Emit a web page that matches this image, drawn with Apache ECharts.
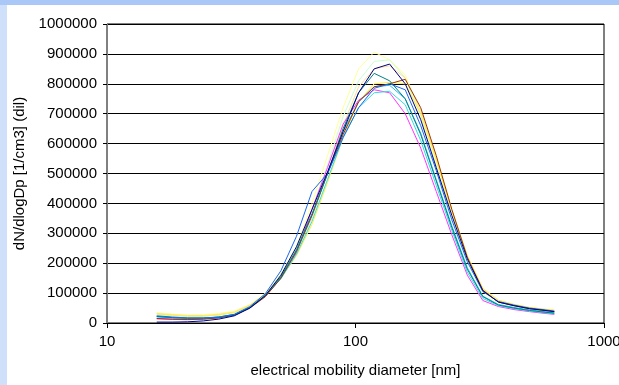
<!DOCTYPE html>
<html>
<head>
<meta charset="utf-8">
<script src="https://cdn.jsdelivr.net/npm/echarts@6/dist/echarts.min.js"></script>
<style>
  html, body { margin: 0; padding: 0; }
  body {
    width: 619px; height: 385px; overflow: hidden;
    background: linear-gradient(to bottom, #a9c7f7 0, #a9c7f7 5px, #cfe0fb 5px);
  }
  #chart { position: absolute; left: 7px; top: 5px; width: 612px; height: 380px; background: #fff; }
</style>
</head>
<body>
<div id="chart"></div>
<script>
// particle diameters (nm), shared by all scans
const diameters = [15.85, 18.30, 21.13, 24.41, 28.18, 32.54, 37.58, 43.39, 50.12, 57.87, 66.83, 77.18, 89.13,
  102.9, 118.9, 137.2, 158.5, 183.0, 211.3, 244.1, 281.8, 325.4, 375.8, 433.9, 501.2, 578.7, 631.0];

const scanNavy = [3000, 3000, 4000, 7000, 13000, 24000, 50000, 92000, 160000, 255000, 380000, 505000, 640000,
  770000, 850000, 866000, 800000, 680000, 520000, 360000, 215000, 108000, 70000, 58000, 48000, 42000, 38000];
const scanBlue = [24000, 20000, 17000, 17000, 20000, 29000, 55000, 98000, 175000, 290000, 440000, 500000, 620000,
  720000, 785000, 800000, 780000, 660000, 510000, 345000, 205000, 105000, 72000, 60000, 50000, 44000, 40000];
const scanMagenta = [14000, 12000, 11000, 13000, 18000, 28000, 52000, 90000, 150000, 235000, 380000, 520000, 665000,
  745000, 780000, 770000, 700000, 585000, 440000, 295000, 160000, 75000, 55000, 45000, 38000, 32000, 29000];
const scanCyan = [20000, 17000, 15000, 16000, 20000, 29000, 53000, 92000, 148000, 230000, 340000, 480000, 620000,
  720000, 770000, 775000, 730000, 610000, 460000, 310000, 170000, 82000, 58000, 48000, 40000, 34000, 31000];
const scanMaroon = [15000, 13000, 12000, 13000, 17000, 26000, 50000, 88000, 150000, 240000, 360000, 500000, 630000,
  740000, 790000, 800000, 815000, 720000, 560000, 380000, 220000, 110000, 70000, 58000, 48000, 42000, 38000];
const scanTeal = [22000, 18000, 16000, 16000, 19000, 27000, 52000, 92000, 155000, 245000, 365000, 500000, 650000,
  770000, 835000, 810000, 750000, 630000, 475000, 320000, 180000, 88000, 60000, 50000, 42000, 36000, 33000];
const scanPaleYellow = [35000, 30000, 27000, 28000, 32000, 40000, 62000, 100000, 165000, 255000, 400000, 560000, 720000,
  850000, 906000, 880000, 830000, 700000, 540000, 370000, 215000, 110000, 75000, 62000, 52000, 46000, 42000];
const scanPaleGreen = [28000, 24000, 21000, 22000, 26000, 34000, 58000, 96000, 160000, 250000, 380000, 530000, 690000,
  810000, 875000, 880000, 820000, 690000, 525000, 360000, 210000, 105000, 72000, 60000, 50000, 44000, 40000];
const scanYellow = [30000, 26000, 23000, 23000, 27000, 35000, 58000, 95000, 150000, 225000, 330000, 470000, 620000,
  740000, 800000, 805000, 800000, 700000, 545000, 375000, 225000, 115000, 76000, 62000, 52000, 46000, 43000];
const scanSky = [22000, 18000, 16000, 16000, 20000, 28000, 52000, 90000, 152000, 240000, 360000, 500000, 640000,
  740000, 790000, 795000, 750000, 635000, 480000, 325000, 185000, 90000, 62000, 52000, 44000, 38000, 34000];
const scanTan = [32000, 28000, 25000, 25000, 29000, 37000, 60000, 97000, 155000, 235000, 350000, 500000, 660000,
  790000, 850000, 860000, 820000, 710000, 550000, 380000, 225000, 115000, 76000, 62000, 52000, 46000, 43000];

const scans = [
  { name: "scan 1", color: "#ffff99", data: scanPaleYellow },
  { name: "scan 2", color: "#ccffcc", data: scanPaleGreen },
  { name: "scan 3", color: "#ffdd99", data: scanTan },
  { name: "scan 4", color: "#ffee44", data: scanYellow },
  { name: "scan 5", color: "#ff33ff", data: scanMagenta },
  { name: "scan 6", color: "#33dddd", data: scanCyan },
  { name: "scan 7", color: "#22bbee", data: scanSky },
  { name: "scan 8", color: "#993300", data: scanMaroon },
  { name: "scan 9", color: "#008080", data: scanTeal },
  { name: "scan 10", color: "#1a66ee", data: scanBlue },
  { name: "scan 11", color: "#000080", data: scanNavy }
];

const yTicks = [0, 100000, 200000, 300000, 400000, 500000, 600000, 700000, 800000, 900000, 1000000];

const font = "Liberation Sans, Arial, sans-serif";
const myChart = echarts.init(document.getElementById("chart"));

const option = {
  animation: false,
  textStyle: { fontFamily: font },
  grid: {
    left: 100, right: 15, top: 19, bottom: 62,
    outerBoundsMode: "none",
    containLabel: false,
    show: true, borderColor: "#000", borderWidth: 1, backgroundColor: "transparent"
  },
  xAxis: {
    type: "log",
    logBase: 10,
    min: 10,
    max: 1000,
    name: "electrical mobility diameter [nm]",
    nameLocation: "middle",
    nameGap: 40,
    nameTextStyle: { color: "#000", fontSize: 15, fontFamily: font },
    axisLine: { lineStyle: { color: "#000", width: 1 } },
    axisTick: { show: true, length: 5, lineStyle: { color: "#000" } },
    axisLabel: { color: "#000", fontSize: 15, margin: 11, fontFamily: font, formatter: v => String(v) },
    splitLine: { show: false },
    minorTick: { show: false }
  },
  yAxis: {
    type: "value",
    min: yTicks[0],
    max: yTicks[yTicks.length - 1],
    interval: 100000,
    name: "dN/dlogDp [1/cm3] (dil)",
    nameLocation: "middle",
    nameGap: 78,
    nameTextStyle: { color: "#000", fontSize: 15, fontFamily: font },
    axisLine: { show: true, lineStyle: { color: "#808080", width: 1 } },
    axisTick: { show: true, length: 4, lineStyle: { color: "#000" } },
    axisLabel: { color: "#000", fontSize: 15, margin: 10, fontFamily: font, formatter: v => String(v) },
    splitLine: { show: true, lineStyle: { color: "#000", width: 1 } }
  },
  series: scans.map(s => ({
    name: s.name,
    type: "line",
    showSymbol: false,
    symbol: "none",
    lineStyle: { width: 1, color: s.color },
    itemStyle: { color: s.color },
    data: diameters.map((d, i) => [d, s.data[i]])
  }))
};

myChart.setOption(option);
</script>
</body>
</html>
